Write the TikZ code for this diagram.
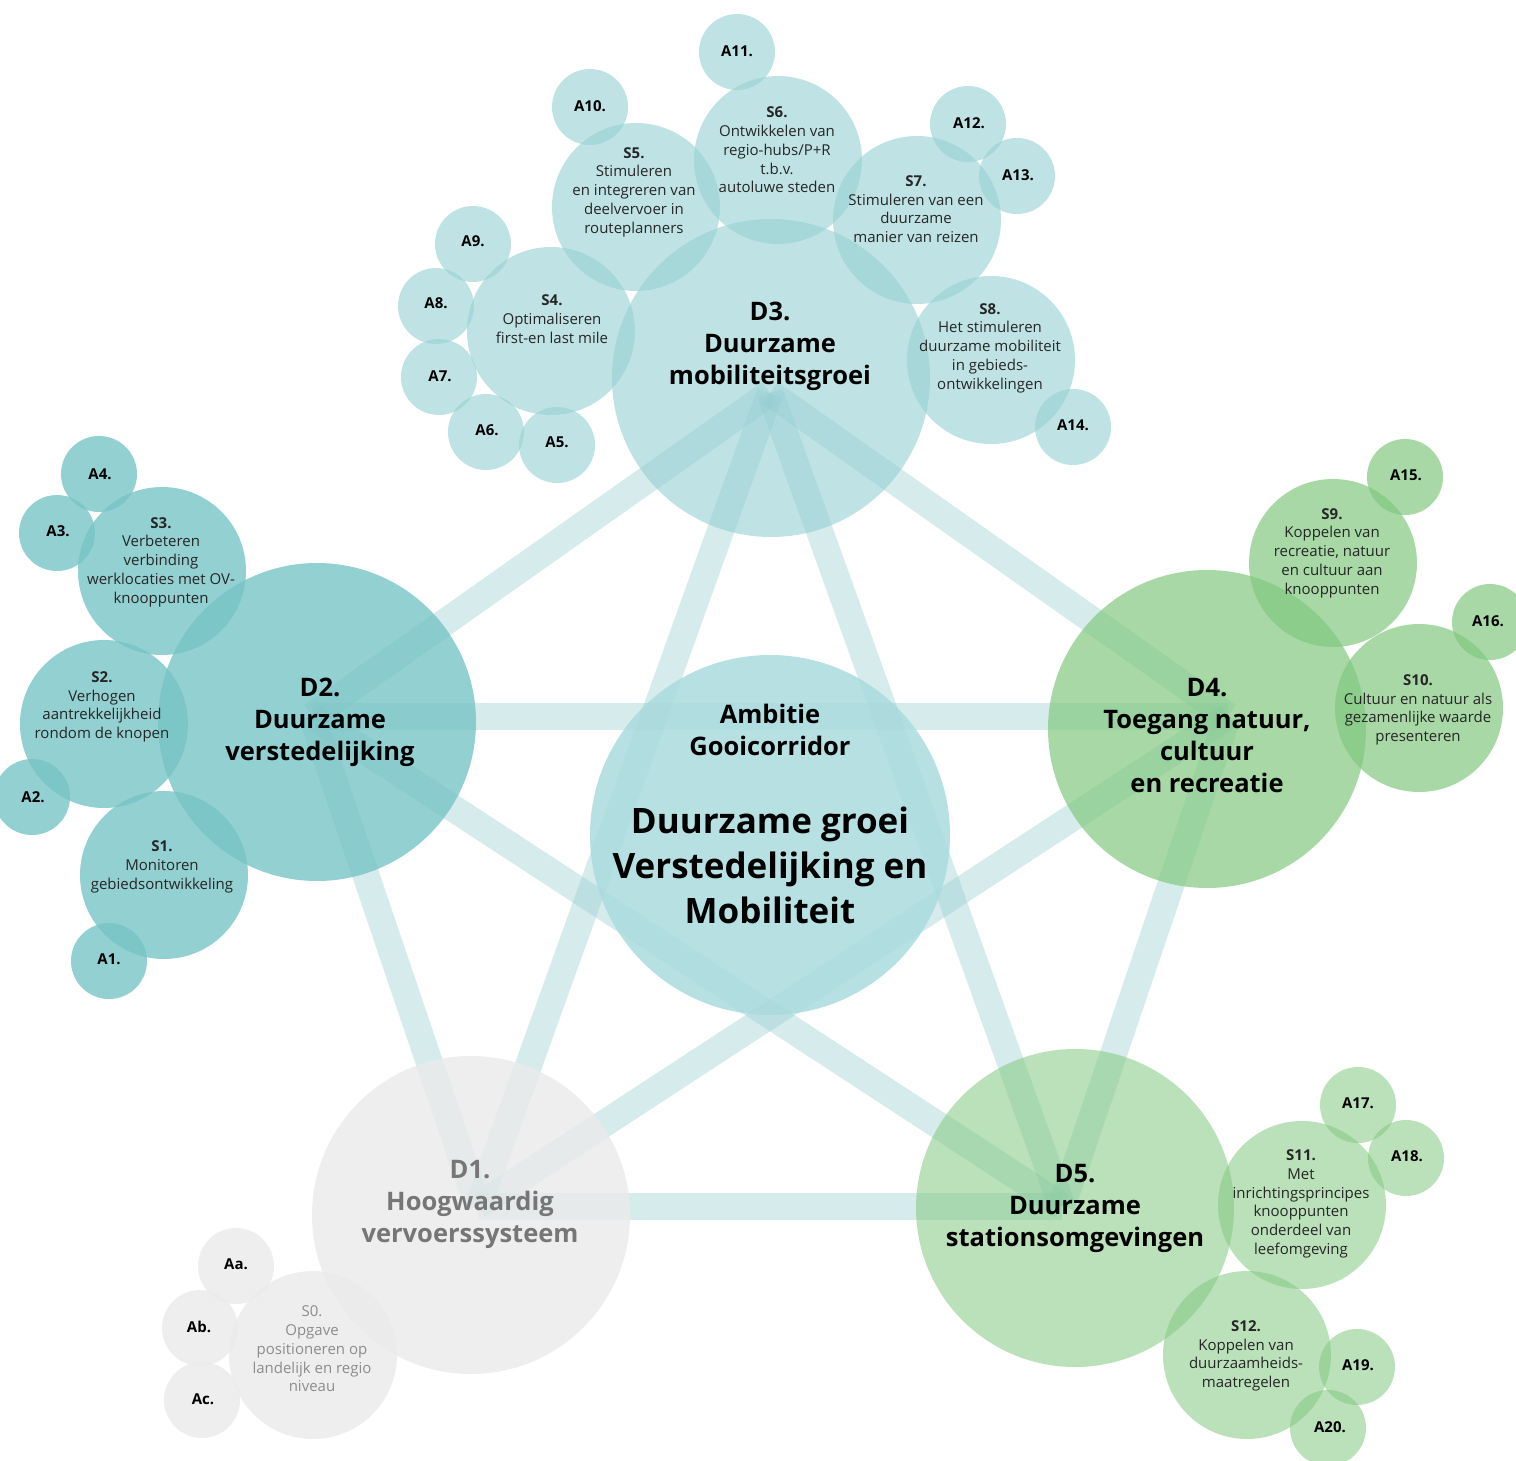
\documentclass[tikz,border=0pt]{standalone}
\usepackage{fontspec}
\setmainfont{Open Sans}
\definecolor{tealA}{RGB}{149,208,211}
\definecolor{tealC}{RGB}{170,219,221}
\definecolor{tealB}{RGB}{120,196,198}
\definecolor{grnA}{RGB}{130,200,128}
\definecolor{grayA}{RGB}{234,234,234}
\definecolor{linkc}{RGB}{150,205,208}
\definecolor{dgray}{RGB}{118,118,118}
\definecolor{sgray}{RGB}{140,140,140}
\tikzset{
  bigc/.style={circle,inner sep=0pt,minimum size=318pt},
  ctrc/.style={circle,inner sep=0pt,minimum size=360pt},
  midc/.style={circle,inner sep=0pt,minimum size=168pt},
  smlc/.style={circle,inner sep=0pt,minimum size=76pt},
  g0/.style={fill=tealC,fill opacity=0.85},
  g3/.style={fill=tealA,fill opacity=0.6},
  g2/.style={fill=tealB,fill opacity=0.8},
  g4/.style={fill=grnA,fill opacity=0.7},
  g5/.style={fill=grnA,fill opacity=0.55},
  g1/.style={fill=grayA,fill opacity=0.8},
  link/.style={draw=linkc,draw opacity=0.4,line width=27pt},
  dtxt/.style={font=\fontsize{25.5}{32}\selectfont\bfseries,align=center,inner sep=0pt},
  ctxt/.style={font=\fontsize{35}{45}\selectfont\bfseries,align=center,inner sep=0pt},
  stxt/.style={font=\fontsize{15}{18.7}\selectfont,align=center,inner sep=0pt,text=black!85},
  atxt/.style={font=\fontsize{15}{18}\selectfont\bfseries,inner sep=0pt}
}
\begin{document}
\begin{tikzpicture}[x=1pt,y=-1pt]
\useasboundingbox (0,0) rectangle (1516,1461);
\clip (0,0) rectangle (1516,1461);
% hubs
\coordinate (h3) at (770,393);
\coordinate (h2) at (312,716);
\coordinate (h4) at (1228,716);
\coordinate (h1) at (478,1206);
\coordinate (h5) at (1062,1206);
% connectors
\draw[link] (h3) -- (h2);
\draw[link] (h3) -- (h4);
\draw[link] (h3) -- (h1);
\draw[link] (h3) -- (h5);
\draw[link] (h2) -- (h4);
\draw[link] (h2) -- (h1);
\draw[link] (h2) -- (h5);
\draw[link] (h4) -- (h1);
\draw[link] (h4) -- (h5);
\draw[link] (h1) -- (h5);
% centre
\node[ctrc,g0] (C) at (770,835) {};
% D3 group
\node[bigc,g3] (D3) at (771,378) {};
\node[midc,g3] (S4) at (551,331) {};
\node[midc,g3] (S5) at (636,207) {};
\node[midc,g3] (S6) at (778,160) {};
\node[midc,g3] (S7) at (917,220) {};
\node[midc,g3] (S8) at (991,360) {};
\node[smlc,g3] (A5) at (557,445) {};
\node[smlc,g3] (A6) at (486,432) {};
\node[smlc,g3] (A7) at (439,377) {};
\node[smlc,g3] (A8) at (436,306) {};
\node[smlc,g3] (A9) at (473,244) {};
\node[smlc,g3] (A10) at (590,107) {};
\node[smlc,g3] (A11) at (737,52) {};
\node[smlc,g3] (A12) at (968,124) {};
\node[smlc,g3] (A13) at (1017,176) {};
\node[smlc,g3] (A14) at (1073,427) {};
% D2 group
\node[bigc,g2] (D2) at (317,722) {};
\node[midc,g2] (S3) at (162,571) {};
\node[midc,g2] (S2) at (104,724) {};
\node[midc,g2] (S1) at (164,875) {};
\node[smlc,g2] (A4) at (99,474) {};
\node[smlc,g2] (A3) at (57,533) {};
\node[smlc,g2] (A2) at (32,797) {};
\node[smlc,g2] (A1) at (109,961) {};
% D4 group
\node[bigc,g4] (D4) at (1207,729) {};
\node[midc,g4] (S9) at (1333,563) {};
\node[midc,g4] (S10) at (1419,708) {};
\node[smlc,g4] (A15) at (1405,477) {};
\node[smlc,g4] (A16) at (1490,622) {};
% D5 group
\node[bigc,g5] (D5) at (1075,1208) {};
\node[midc,g5] (S11) at (1302,1205) {};
\node[midc,g5] (S12) at (1247,1355) {};
\node[smlc,g5] (A17) at (1358,1105) {};
\node[smlc,g5] (A18) at (1406,1158) {};
\node[smlc,g5] (A19) at (1357,1367) {};
\node[smlc,g5] (A20) at (1328,1428) {};
% D1 group
\node[bigc,g1] (D1) at (471,1215) {};
\node[midc,g1] (S0) at (313,1355) {};
\node[smlc,g1] (Aa) at (236,1266) {};
\node[smlc,g1] (Ab) at (200,1328) {};
\node[smlc,g1] (Ac) at (202,1400) {};
% texts: centre and D
\node[dtxt] (tC1) at (770,730) {Ambitie\\Gooicorridor};
\node[ctxt] (tC2) at (770,865) {Duurzame groei\\Verstedelijking en\\Mobiliteit};
\node[dtxt] (tD3) at (770,346) {D3.\\Duurzame\\mobiliteitsgroei};
\node[dtxt] (tD2) at (320,722) {D2.\\Duurzame\\verstedelijking};
\node[dtxt] (tD4) at (1207,736) {D4.\\Toegang natuur,\\cultuur\\en recreatie};
\node[dtxt] (tD5) at (1075,1208) {D5.\\Duurzame\\stationsomgevingen};
\node[dtxt,text=dgray] (tD1) at (470,1204) {D1.\\Hoogwaardig\\vervoerssysteem};
% S texts
\node[stxt] (tS5) at (634,192) {{\bfseries S5.}\\Stimuleren\\en integreren van\\deelvervoer in\\routeplanners};
\node[stxt] (tS6) at (777,150) {{\bfseries S6.}\\Ontwikkelen van\\regio-hubs/P+R\\t.b.v.\\autoluwe steden};
\node[stxt] (tS7) at (916,209) {{\bfseries S7.}\\Stimuleren van een\\duurzame\\manier van reizen};
\node[stxt] (tS4) at (552,319) {{\bfseries S4.}\\Optimaliseren\\first-en last mile};
\node[stxt] (tS8) at (990,348) {{\bfseries S8.}\\Het stimuleren\\duurzame mobiliteit\\in gebieds-\\ontwikkelingen};
\node[stxt] (tS3) at (161,562) {{\bfseries S3.}\\Verbeteren\\verbinding\\werklocaties met OV-\\knooppunten};
\node[stxt] (tS2) at (102,707) {{\bfseries S2.}\\Verhogen\\aantrekkelijkheid\\rondom de knopen};
\node[stxt] (tS1) at (162,867) {{\bfseries S1.}\\Monitoren\\gebiedsontwikkeling};
\node[stxt] (tS9) at (1332,553) {{\bfseries S9.}\\Koppelen van\\recreatie, natuur\\en cultuur aan\\knooppunten};
\node[stxt] (tS10) at (1418,710) {{\bfseries S10.}\\Cultuur en natuur als\\gezamenlijke waarde\\presenteren};
\node[stxt] (tS11) at (1301,1204) {{\bfseries S11.}\\Met\\inrichtingsprincipes\\knooppunten\\onderdeel van\\leefomgeving};
\node[stxt] (tS12) at (1246,1356) {{\bfseries S12.}\\Koppelen van\\duurzaamheids-\\maatregelen};
\node[stxt,text=sgray] (tS0) at (312,1349) {S0.\\Opgave\\positioneren op\\landelijk en regio\\niveau};
% A texts
\node[atxt] (tA1) at (109,959) {A1.};
\node[atxt] (tA2) at (33,797) {A2.};
\node[atxt] (tA3) at (58,531) {A3.};
\node[atxt] (tA4) at (100,474) {A4.};
\node[atxt] (tA5) at (557,442) {A5.};
\node[atxt] (tA6) at (487,430) {A6.};
\node[atxt] (tA7) at (440,376) {A7.};
\node[atxt] (tA8) at (436,303) {A8.};
\node[atxt] (tA9) at (473,241) {A9.};
\node[atxt] (tA10) at (590,106) {A10.};
\node[atxt] (tA11) at (737,51) {A11.};
\node[atxt] (tA12) at (969,123) {A12.};
\node[atxt] (tA13) at (1018,175) {A13.};
\node[atxt] (tA14) at (1073,425) {A14.};
\node[atxt] (tA15) at (1406,475) {A15.};
\node[atxt] (tA16) at (1488,621) {A16.};
\node[atxt] (tA17) at (1358,1103) {A17.};
\node[atxt] (tA18) at (1407,1156) {A18.};
\node[atxt] (tA19) at (1358,1365) {A19.};
\node[atxt] (tA20) at (1330,1427) {A20.};
\node[atxt] (tAa) at (236,1264) {Aa.};
\node[atxt] (tAb) at (199,1327) {Ab.};
\node[atxt] (tAc) at (203,1399) {Ac.};
\end{tikzpicture}
\end{document}
